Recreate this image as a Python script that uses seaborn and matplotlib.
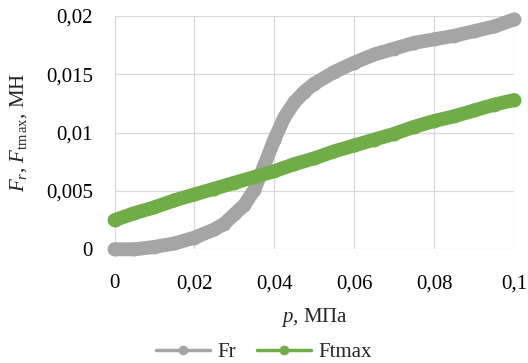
import matplotlib
matplotlib.use("Agg")
import matplotlib.pyplot as plt
from matplotlib.lines import Line2D
import seaborn as sns
import pandas as pd

# ---- data ----
p_fr = [0.0, 0.005, 0.01, 0.015, 0.02, 0.025, 0.0275, 0.03, 0.0325, 0.035, 0.0375,
        0.04, 0.0425, 0.045, 0.0475, 0.05, 0.055, 0.06, 0.065, 0.07, 0.075,
        0.08, 0.085, 0.09, 0.095, 0.1]
fr = [0.0000, 0.0000, 0.0002, 0.0005, 0.0010, 0.0017, 0.0022, 0.0030, 0.0038, 0.0051, 0.0072,
      0.0094, 0.0113, 0.0126, 0.0135, 0.0142, 0.0152, 0.0160, 0.0167, 0.0172, 0.0177,
      0.0180, 0.0183, 0.0187, 0.0191, 0.0197]

p_ft = [0.0, 0.005, 0.01, 0.015, 0.02, 0.025, 0.03, 0.035, 0.04, 0.045, 0.05,
        0.055, 0.06, 0.065, 0.07, 0.075, 0.08, 0.085, 0.09, 0.095, 0.1]
ftmax = [0.0025, 0.0031, 0.0036, 0.0042, 0.0047, 0.0052, 0.0057, 0.0062, 0.0067, 0.0073, 0.0078,
         0.0084, 0.0089, 0.0094, 0.0099, 0.0105, 0.0110, 0.0114, 0.0119, 0.0124, 0.0128]

series_names = ["Fr", "Ftmax"]
series_colors = ["#A5A5A5", "#70AD47"]

x_ticks = [0, 0.02, 0.04, 0.06, 0.08, 0.1]
x_tick_labels = ["0", "0,02", "0,04", "0,06", "0,08", "0,1"]
y_ticks = [0, 0.005, 0.01, 0.015, 0.02]
y_tick_labels = ["0", "0,005", "0,01", "0,015", "0,02"]

x_label = r"$p$, МПа"
y_label = r"$F_r$, $F_{\mathrm{tm\,ax}}$, МН"

df = pd.concat([
    pd.DataFrame({"p": p_fr, "F": fr, "series": series_names[0]}),
    pd.DataFrame({"p": p_ft, "F": ftmax, "series": series_names[1]}),
], ignore_index=True)

# ---- style ----
sns.set_theme(style="white")
plt.rcParams["font.family"] = ["Liberation Serif", "DejaVu Serif"]
plt.rcParams["mathtext.fontset"] = "custom"
plt.rcParams["mathtext.rm"] = "Liberation Serif"
plt.rcParams["mathtext.it"] = "Liberation Serif:italic"
FS = 15

fig = plt.figure(figsize=(5.28, 3.63), dpi=100)
ax = fig.add_axes([114.5 / 528, 1 - 249.3 / 363, (514 - 114.5) / 528, (249.3 - 16) / 363])

palette = dict(zip(series_names, series_colors))
sns.lineplot(data=df, x="p", y="F", hue="series", hue_order=series_names,
             palette=palette, ax=ax, linewidth=10, marker="o", markersize=10,
             markeredgewidth=0, legend=False, solid_capstyle="round",
             solid_joinstyle="round", clip_on=False, zorder=3)
lines = ax.get_lines()
if len(lines) >= 2:
    lines[1].set_zorder(5)  # Ftmax above Fr

ax.set_xlim(0, 0.1)
ax.set_ylim(0, 0.02)
ax.set_xticks(x_ticks)
ax.set_xticklabels(x_tick_labels, fontsize=FS)
ax.set_yticks(y_ticks)
ax.set_yticklabels(y_tick_labels, fontsize=FS)
ax.tick_params(axis="both", length=0, colors="black")
ax.tick_params(axis="x", pad=18)
ax.tick_params(axis="y", pad=15.5)

ax.grid(True, color="#D9D9D9", linewidth=0.9)
ax.set_axisbelow(True)
for s in ax.spines.values():
    s.set_visible(False)

ax.set_xlabel(x_label, fontsize=FS)
ax.xaxis.set_label_coords(0.5, -0.245)
ax.set_ylabel(y_label, fontsize=FS)
ax.yaxis.set_label_coords(-0.213, 0.5)

handles = [Line2D([0], [0], color=c, lw=2.5, marker="o", markersize=7, markeredgewidth=0)
           for c in series_colors]
fig.legend(handles, series_names, loc="center", bbox_to_anchor=(0.5, 0.03),
           ncol=2, frameon=False, fontsize=FS, handlelength=2.6,
           handletextpad=0.35, columnspacing=1.0, borderaxespad=0)

fig.savefig("out.png", dpi=100)
